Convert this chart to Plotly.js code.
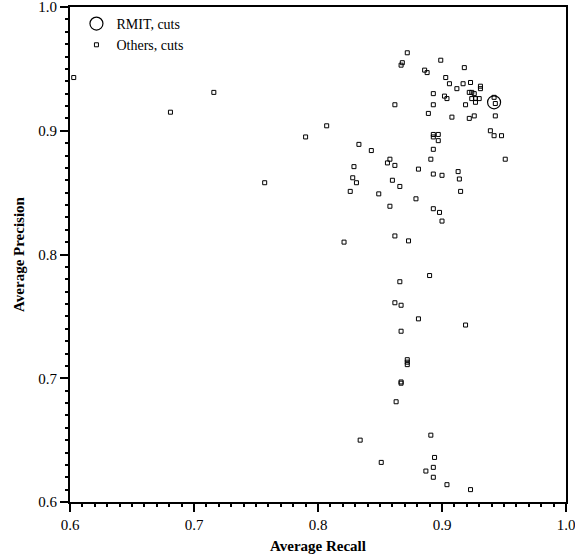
<!DOCTYPE html>
<html>
<head>
<meta charset="utf-8">
<script src="https://cdn.plot.ly/plotly-3.0.1.min.js"></script>
<style>html,body{margin:0;padding:0;background:#fff}</style>
</head>
<body>
<div id="chart" style="width:575px;height:554px"></div>
<script>
const rmitRecall = [0.942];
const rmitPrecision = [0.923];

const othersRecall = [
 0.603,0.716,0.681,0.807,0.790,0.757,0.872,0.868,0.867,0.899,
 0.886,0.888,0.918,0.903,0.906,0.912,0.917,0.923,0.931,0.931,
 0.893,0.902,0.904,0.922,0.924,0.926,0.924,0.927,0.930,0.927,
 0.942,0.943,0.862,0.893,0.919,0.889,0.908,0.922,0.926,0.943,
 0.893,0.893,0.897,0.897,0.939,0.942,0.948,0.833,0.843,0.893,
 0.891,0.951,0.858,0.856,0.862,0.829,0.881,0.893,0.900,0.913,
 0.914,0.915,0.828,0.831,0.860,0.866,0.826,0.849,0.879,0.858,
 0.893,0.898,0.900,0.862,0.873,0.821,0.890,0.866,0.862,0.867,
 0.881,0.919,0.867,0.872,0.872,0.872,0.867,0.867,0.863,0.891,
 0.834,0.894,0.851,0.893,0.887,0.893,0.904,0.923
];
const othersPrecision = [
 0.943,0.931,0.915,0.904,0.895,0.858,0.963,0.955,0.953,0.957,
 0.949,0.947,0.951,0.943,0.938,0.934,0.938,0.939,0.936,0.934,
 0.930,0.928,0.926,0.931,0.931,0.930,0.926,0.926,0.926,0.923,
 0.927,0.922,0.921,0.921,0.921,0.914,0.911,0.910,0.912,0.912,
 0.897,0.895,0.897,0.892,0.900,0.896,0.896,0.889,0.884,0.885,
 0.877,0.877,0.877,0.874,0.872,0.871,0.869,0.865,0.864,0.867,
 0.861,0.851,0.862,0.858,0.860,0.855,0.851,0.849,0.845,0.839,
 0.837,0.834,0.827,0.815,0.811,0.810,0.783,0.778,0.761,0.759,
 0.748,0.743,0.738,0.715,0.713,0.711,0.697,0.696,0.681,0.654,
 0.650,0.636,0.632,0.628,0.625,0.620,0.614,0.610
];

const xTickVals = [0.6,0.7,0.8,0.9,1.0];
const xTickText = ['0.6','0.7','0.8','0.9','1.0'];
const yTickVals = [0.6,0.7,0.8,0.9,1.0];
const yTickText = ['0.6','0.7','0.8','0.9','1.0'];

const font = 'Liberation Serif, Times New Roman, serif';

function minorVals(vals) {
  const out = [];
  for (let i = 0; i < vals.length - 1; i++) {
    for (let k = 1; k < 10; k++) out.push(+(vals[i] + (vals[i + 1] - vals[i]) * k / 10).toFixed(3));
  }
  return out;
}

const traces = [
  {
    x: othersRecall, y: othersPrecision, type: 'scatter', mode: 'markers',
    xaxis: 'x2', yaxis: 'y2', showlegend: false, hoverinfo: 'skip',
    marker: {size: 1, opacity: 0}
  },
  {
    x: rmitRecall, y: rmitPrecision, type: 'scatter', mode: 'markers',
    name: 'RMIT, cuts', cliponaxis: false,
    marker: {symbol: 'circle-open', size: 13, color: '#000', line: {width: 1.2, color: '#000'}}
  },
  {
    x: othersRecall, y: othersPrecision, type: 'scatter', mode: 'markers',
    name: 'Others, cuts', cliponaxis: false,
    marker: {symbol: 'square-open', size: 4, color: '#000', line: {width: 1, color: '#000'}}
  }
];

const axisCommon = {
  showgrid: false, zeroline: false, showline: true, mirror: true,
  linecolor: '#000', linewidth: 2,
  ticks: 'outside', ticklen: 8, tickwidth: 2, tickcolor: '#000',
  ticklabeloverflow: 'allow',
  tickfont: {family: font, size: 15, color: '#000'}
};

const minorCommon = {
  showgrid: false, zeroline: false, showline: false,
  ticks: 'outside', ticklen: 4, tickwidth: 2, tickcolor: '#000',
  showticklabels: false, tickmode: 'array', range: [0.6, 1.0]
};

const layout = {
  width: 575, height: 554,
  margin: {l: 70, r: 9, t: 7, b: 52},
  paper_bgcolor: '#fff', plot_bgcolor: '#fff',
  font: {family: font, color: '#000'},
  showlegend: true,
  legend: {
    x: 0.013, y: 0.998, xanchor: 'left', yanchor: 'top',
    bgcolor: 'rgba(0,0,0,0)', borderwidth: 0,
    font: {family: font, size: 14, color: '#000'},
    tracegroupgap: 0
  },
  xaxis: Object.assign({}, axisCommon, {
    range: [0.6, 1.0], tickmode: 'array', tickvals: xTickVals, ticktext: xTickText,
    title: {text: '<b>Average Recall</b>', font: {family: font, size: 15, color: '#000'}, standoff: 9}
  }),
  yaxis: Object.assign({}, axisCommon, {
    range: [0.6, 1.0], tickmode: 'array', tickvals: yTickVals, ticktext: yTickText,
    title: {text: '<b>Average Precision</b>', font: {family: font, size: 15, color: '#000'}, standoff: 10}
  }),
  xaxis2: Object.assign({}, minorCommon, {overlaying: 'x', anchor: 'y2', side: 'bottom', tickvals: minorVals(xTickVals)}),
  yaxis2: Object.assign({}, minorCommon, {overlaying: 'y', anchor: 'x2', side: 'left', tickvals: minorVals(yTickVals)})
};

Plotly.newPlot('chart', traces, layout, {displayModeBar: false, staticPlot: true});
</script>
</body>
</html>
